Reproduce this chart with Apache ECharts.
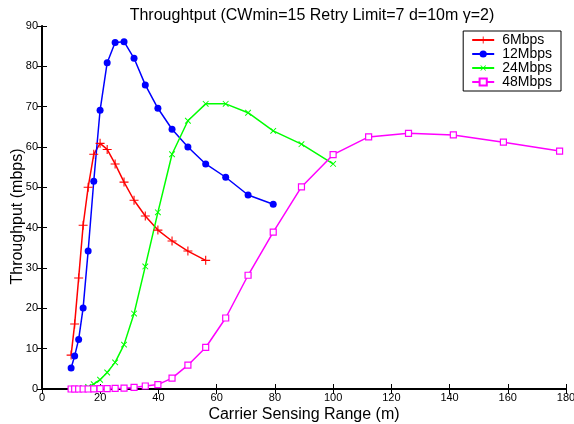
<!DOCTYPE html>
<html>
<head>
    <meta charset="utf-8">
    <title>Throughtput</title>
    <script src="https://cdn.jsdelivr.net/npm/echarts@6/dist/echarts.min.js"></script>
</head>
<body style="margin:0;background:#fff;">

<div id="main" style="width:574px;height:424px;"></div>

<script type="text/javascript">

// carrier sensing range (m) for each sample
var range_m = [10, 11.22, 12.59, 14.13, 15.85, 17.78, 19.95, 22.39, 25.12, 28.18, 31.62, 35.48, 39.81,
               44.67, 50.12, 56.23, 63.10, 70.79, 79.43, 89.13, 100, 112.2, 125.9, 141.3, 158.5, 177.8];

var thr_6 = [8.4, 16.1, 27.5, 40.6, 50.0, 58.2, 60.9, 59.4, 55.8, 51.3, 46.8, 42.9, 39.4, 36.7, 34.2, 31.9];
var thr_12 = [5.2, 8.2, 12.3, 20.1, 34.2, 51.5, 69.1, 80.9, 85.9, 86.1, 82.0, 75.4, 69.6, 64.4, 60.0, 55.8,
              52.5, 48.1, 45.8];
var thr_24 = [0.0, 0.0, 0.1, 0.2, 0.5, 1.2, 2.3, 4.1, 6.6, 11.0, 18.7, 30.4, 43.8, 58.2, 66.5, 70.7, 70.7,
              68.5, 64.0, 60.7, 55.8];
var thr_48 = [0.0, 0.0, 0.0, 0.0, 0.0, 0.05, 0.1, 0.1, 0.15, 0.2, 0.4, 0.75, 1.1, 2.7, 5.9, 10.3, 17.6,
              28.2, 38.9, 50.1, 58.1, 62.5, 63.4, 63.0, 61.2, 59.0];

var series_names = ['6Mbps', '12Mbps', '24Mbps', '48Mbps'];

function pairs(vals) {
    return vals.map(function (v, i) { return [range_m[i], v]; });
}

var plus_path = 'path://M4.4,0H5.6V4.4H10V5.6H5.6V10H4.4V5.6H0V4.4H4.4Z';
var font = 'Liberation Sans, Arial, sans-serif';

var myChart = echarts.init(document.getElementById('main'));

var hidden_axis = {
    axisLine: { show: true, lineStyle: { color: '#000', width: 1 } },
    axisTick: { show: true, inside: true, length: 5, lineStyle: { color: '#000' } },
    axisLabel: { show: false },
    splitLine: { show: false }
};

myChart.setOption({
    animation: false,
    backgroundColor: '#fff',
    title: {
        text: 'Throughtput (CWmin=15 Retry Limit=7 d=10m \u03b3=2)',
        left: 307,
        textAlign: 'center',
        top: 3,
        textStyle: { fontFamily: font, fontSize: 16, fontWeight: 'normal', color: '#000' }
    },
    grid: { left: 42, right: 8, top: 26, bottom: 35, outerBoundsMode: 'none' },
    legend: {
        data: series_names,
        orient: 'vertical',
        right: 13,
        top: 31,
        backgroundColor: '#fff',
        borderColor: '#000',
        borderWidth: 1,
        padding: [2, 9, 2, 8],
        itemGap: 0,
        itemWidth: 22,
        itemHeight: 9,
        textStyle: { fontFamily: font, fontSize: 14, lineHeight: 14, color: '#000', padding: [0, 0, 0, 3] }
    },
    xAxis: [{
        type: 'value',
        min: 0,
        max: 180,
        interval: 20,
        name: 'Carrier Sensing Range (m)',
        nameLocation: 'middle',
        nameGap: 18,
        nameMoveOverlap: false,
        nameTextStyle: { fontFamily: font, fontSize: 16, color: '#000' },
        axisLine: { show: true, lineStyle: { color: '#000', width: 2 } },
        axisTick: { show: true, inside: true, length: 5, lineStyle: { color: '#000' } },
        axisLabel: { fontFamily: font, fontSize: 11, color: '#000', margin: 3 },
        splitLine: { show: false }
    }, Object.assign({ type: 'value', position: 'top', min: 0, max: 180, interval: 20 }, hidden_axis)],
    yAxis: [{
        type: 'value',
        min: 0,
        max: 90,
        interval: 10,
        name: 'Throughput (mbps)',
        nameLocation: 'middle',
        nameGap: 16,
        nameMoveOverlap: false,
        nameTextStyle: { fontFamily: font, fontSize: 16, color: '#000', padding: [0, 18, 0, 0] },
        axisLine: { show: true, lineStyle: { color: '#000', width: 2 } },
        axisTick: { show: true, inside: true, length: 5, lineStyle: { color: '#000' } },
        axisLabel: { fontFamily: font, fontSize: 11, color: '#000', margin: 4 },
        splitLine: { show: false }
    }, Object.assign({ type: 'value', position: 'right', min: 0, max: 90, interval: 10 }, hidden_axis)],
    series: [{
        name: series_names[0],
        type: 'line',
        data: pairs(thr_6),
        symbol: plus_path,
        symbolSize: 9,
        color: '#ff0000',
        lineStyle: { width: 1.5, color: '#ff0000' },
        itemStyle: { color: '#ff0000' }
    },
    {
        name: series_names[1],
        type: 'line',
        data: pairs(thr_12),
        symbol: 'circle',
        symbolSize: 7,
        color: '#0000ff',
        lineStyle: { width: 1.5, color: '#0000ff' },
        itemStyle: { color: '#0000ff' }
    },
    {
        name: series_names[2],
        type: 'line',
        data: pairs(thr_24),
        symbol: plus_path,
        symbolRotate: 45,
        symbolSize: 8,
        color: '#00ff00',
        lineStyle: { width: 1.5, color: '#00ff00' },
        itemStyle: { color: '#00ff00' }
    },
    {
        name: series_names[3],
        type: 'line',
        data: pairs(thr_48),
        symbol: 'rect',
        symbolSize: 6,
        color: '#ff00ff',
        lineStyle: { width: 1.5, color: '#ff00ff' },
        itemStyle: { color: '#ffffff', borderColor: '#ff00ff', borderWidth: 1.2 }
    }]
});
</script>

</body>
</html>
